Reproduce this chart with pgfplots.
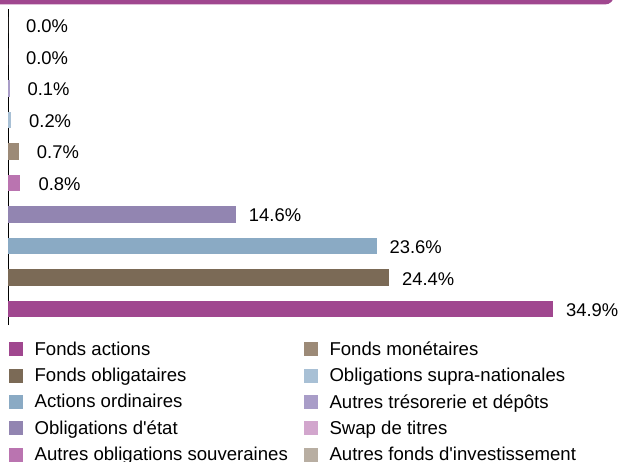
\documentclass[border=0pt]{standalone}
\usepackage{pgfplots}
\pgfplotsset{compat=1.18}
\usepackage{fontspec}
\setmainfont{Liberation Sans}
\definecolor{cA}{HTML}{A0478F}
\definecolor{cB}{HTML}{7B6A56}
\definecolor{cC}{HTML}{8AAAC4}
\definecolor{cD}{HTML}{9285B1}
\definecolor{cE}{HTML}{BA74B0}
\definecolor{cF}{HTML}{9C8A77}
\definecolor{cG}{HTML}{A8C0D5}
\definecolor{cH}{HTML}{A99DC8}
\definecolor{cI}{HTML}{D2A6CD}
\definecolor{cJ}{HTML}{B8AEA2}
\begin{document}
\begin{tikzpicture}
\useasboundingbox (0,0) rectangle (619bp,462bp);
\fill[cA, rounded corners=9bp] (-20bp,457.5bp) rectangle (614bp,490bp);
\begin{axis}[
  at={(8bp,137bp)}, anchor=south west,
  scale only axis, width=546.7bp, height=315.6bp,
  xmin=0, xmax=35, ymin=-0.5, ymax=9.5,
  axis x line=none, axis y line*=left,
  y axis line style={-, black, line width=0.8bp},
  xtick=\empty, ytick=\empty,
  xbar, bar width=16.5bp, bar shift=0pt,
  point meta=x,
  nodes near coords={\pgfmathprintnumber[fixed,fixed zerofill,precision=1,assume math mode=true]{\pgfplotspointmeta}\%},
  every node near coord/.append style={anchor=center, inner xsep=0pt, xshift=39bp, yshift=-1bp, font=\fontsize{18.4bp}{22bp}\selectfont, text=black},
  legend columns=2,
  legend image code/.code={\fill[#1] (0bp,-7bp) rectangle (14bp,7bp);},
  legend cell align=left,
  legend style={at={(0,0)}, anchor=north west, xshift=1bp, yshift=-11bp,
    draw=none, fill=none, inner sep=0pt, outer sep=0pt, row sep=0pt, column sep=0pt,
    font=\fontsize{18.6bp}{22bp}\selectfont,
    nodes={inner xsep=0pt, inner ysep=0pt, minimum height=26.4bp},
    /tikz/every odd column/.append style={column sep=11.6bp},
    /tikz/every even column/.append style={column sep=16bp}},
]
\addplot[fill=cA, draw=none] coordinates {(34.9,0)};
\addlegendentry{Fonds actions}
\addplot[fill=cF, draw=none] coordinates {(0.7,5)};
\addlegendentry{Fonds monétaires}
\addplot[fill=cB, draw=none] coordinates {(24.4,1)};
\addlegendentry{Fonds obligataires}
\addplot[fill=cG, draw=none] coordinates {(0.2,6)};
\addlegendentry{Obligations supra-nationales}
\addplot[fill=cC, draw=none] coordinates {(23.6,2)};
\addlegendentry{Actions ordinaires}
\addplot[fill=cH, draw=none] coordinates {(0.1,7)};
\addlegendentry{Autres trésorerie et dépôts}
\addplot[fill=cD, draw=none] coordinates {(14.6,3)};
\addlegendentry{Obligations d\textquotesingle état}
\addplot[fill=cI, draw=none] coordinates {(0.0,8)};
\addlegendentry{Swap de titres}
\addplot[fill=cE, draw=none] coordinates {(0.8,4)};
\addlegendentry{Autres obligations souveraines}
\addplot[fill=cJ, draw=none] coordinates {(0.0,9)};
\addlegendentry{Autres fonds d\textquotesingle investissement}
\end{axis}
\end{tikzpicture}
\end{document}
